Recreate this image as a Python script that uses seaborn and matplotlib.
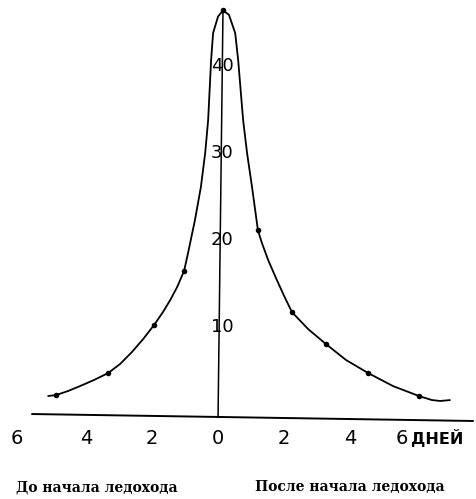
import matplotlib
matplotlib.use("Agg")
import matplotlib.pyplot as plt
import seaborn as sns
import pandas as pd

# Ice-drift curve: days relative to the start of ice drift vs. value
curve_days = [-5.15, -4.91, -4.55, -4.18, -3.76, -3.33, -2.97, -2.61, -2.27, -1.94,
              -1.67, -1.45, -1.24, -1.03, -0.91, -0.70, -0.52, -0.39, -0.30, -0.21,
              -0.15, 0.0, 0.15, 0.33, 0.52, 0.61, 0.76, 0.88, 1.03, 1.21,
              1.33, 1.52, 1.76, 2.0, 2.24, 2.73, 3.27, 3.88, 4.55, 5.30,
              6.09, 6.48, 6.73, 7.03]
curve_vals = [2.07, 2.18, 2.64, 3.22, 3.91, 4.71, 5.75, 7.13, 8.62, 10.23,
              11.72, 13.1, 14.6, 16.44, 18.5, 22.3, 26.1, 30.0, 33.8, 40.7,
              43.8, 45.7, 46.4, 45.9, 43.8, 40.7, 33.8, 30.0, 26.1, 21.1,
              19.66, 17.7, 15.6, 13.6, 11.72, 9.77, 8.05, 6.21, 4.71, 3.22,
              2.07, 1.61, 1.5, 1.6]

# Observed points
point_days = [-4.91, -3.33, -1.94, -1.03, 0.15, 1.21, 2.24, 3.27, 4.55, 6.09]
point_vals = [2.18, 4.71, 10.23, 16.44, 46.4, 21.1, 11.72, 8.05, 4.71, 2.07]

x_ticks = [-6, -4, -2, 0, 2, 4, 6]
x_tick_labels = ["6", "4", "2", "0", "2", "4", "6"]
y_ticks = [10, 20, 30, 40]
y_tick_labels = ["10", "20", "30", "40"]
unit_label = "ДНЕЙ"
left_caption = "До начала ледохода"
right_caption = "После начала ледохода"

sns.set_theme(style="white")
plt.rcParams["font.family"] = ["DejaVu Sans"]

fig = plt.figure(figsize=(4.76, 4.99), dpi=100)
ax = fig.add_axes([0, 0, 1, 1])
ax.set_xlim(-6.61, 7.82)
ax.set_ylim(-9.77, 47.6)
ax.axis("off")

curve = pd.DataFrame({"day": curve_days, "val": curve_vals})
points = pd.DataFrame({"day": point_days, "val": point_vals})

sns.lineplot(data=curve, x="day", y="val", sort=False, color="black",
             linewidth=1.3, ax=ax, solid_joinstyle="round",
             solid_capstyle="round")
sns.scatterplot(data=points, x="day", y="val", color="black", s=16,
                edgecolor="black", linewidth=0, ax=ax, zorder=3)

# Axes drawn as plain lines
ax.plot([-5.64, 7.73], [0.0, -0.8], color="black", linewidth=1.4)
ax.plot([0.0, 0.15], [-0.4, 46.4], color="black", linewidth=1.1)

# Tick labels
for d, lab in zip(x_ticks, x_tick_labels):
    xx = d
    if d == 6:
        xx = 5.58
    elif d == -6:
        xx = -6.1
    ax.text(xx, -2.8, lab, ha="center", va="center", fontsize=14,
            color="black", family="DejaVu Sans")
ax.text(5.84, -2.75, unit_label, ha="left", va="center", fontsize=11.5,
        fontweight="bold", color="black", family="DejaVu Sans")

for v, lab in zip(y_ticks, y_tick_labels):
    ax.text(0.12, v, lab, ha="center", va="center", fontsize=13,
            color="black")

ax.text(-3.67, -8.4, left_caption, ha="center", va="center", fontsize=10,
        fontweight="bold", family="DejaVu Serif", color="black")
ax.text(4.0, -8.4, right_caption, ha="center", va="center", fontsize=10,
        fontweight="bold", family="DejaVu Serif", color="black")

fig.savefig("out.png", dpi=100, facecolor="white")
